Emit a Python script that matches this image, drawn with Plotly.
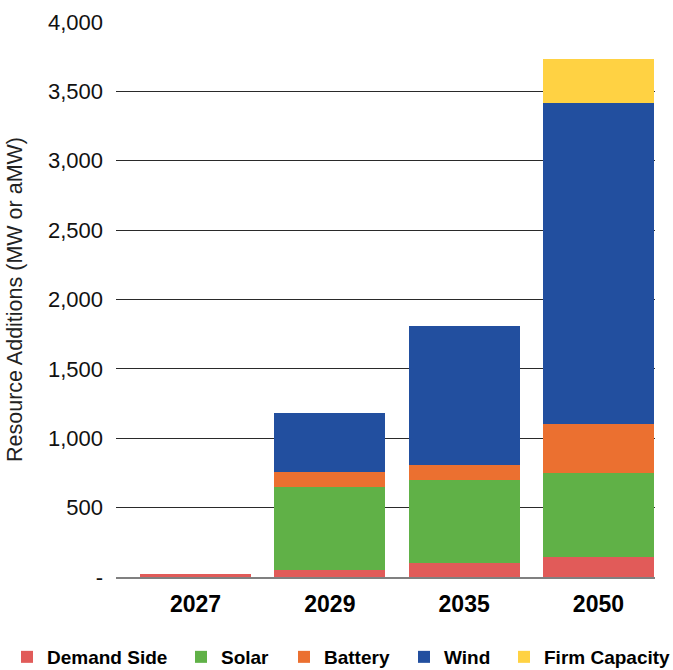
import plotly.graph_objects as go

years = ["2027", "2029", "2035", "2050"]
demand_side = [20, 53, 100, 145]
solar = [0, 595, 600, 605]
battery = [0, 109, 107, 353]
wind = [0, 425, 1002, 2313]
firm_capacity = [0, 0, 0, 317]

y_tickvals = [0, 500, 1000, 1500, 2000, 2500, 3000, 3500, 4000]
y_ticktext = ["-", "500", "1,000", "1,500", "2,000", "2,500", "3,000", "3,500", "4,000"]

series = [
    ("Demand Side", demand_side, "#E15B59"),
    ("Solar", solar, "#60B147"),
    ("Battery", battery, "#EB7030"),
    ("Wind", wind, "#224F9F"),
    ("Firm Capacity", firm_capacity, "#FFD243"),
]
# left pixel of each legend entry (container coords)
legend_left_px = [7, 181, 284, 404, 504]

W, H = 673, 670
fig = go.Figure()
legend_layouts = {}
for i, (name, vals, col) in enumerate(series):
    lname = "legend" if i == 0 else f"legend{i+1}"
    fig.add_trace(go.Bar(name=name, x=years, y=vals, marker_color=col,
                         marker_line_width=0, width=0.826, legend=lname))
    legend_layouts[lname] = dict(
        orientation="h", xref="container", yref="container",
        x=legend_left_px[i] / W, xanchor="left",
        y=1 - 657 / H, yanchor="middle",
        bgcolor="rgba(0,0,0,0)", borderwidth=0,
        font=dict(family="Liberation Sans, Arial", size=19, color="#000", weight="bold"),
        itemwidth=30)

fig.update_layout(
    barmode="stack",
    width=W, height=H,
    margin=dict(l=116, r=18, t=22, b=93, autoexpand=False),
    plot_bgcolor="white", paper_bgcolor="white",
    font=dict(family="Liberation Sans, Arial", color="#111"),
    showlegend=True,
    **legend_layouts,
)
fig.update_xaxes(type="category", range=[-0.592, 3.421], showgrid=False,
                 showline=True, linecolor="#808080", linewidth=2,
                 tickfont=dict(family="Liberation Sans, Arial", size=23, color="#000", weight="bold"),
                 ticks="", ticklabelstandoff=5)
fig.update_yaxes(range=[0, 4000], tickvals=y_tickvals, ticktext=y_ticktext,
                 showgrid=True, gridcolor="#2a2a2a", gridwidth=1, zeroline=False,
                 tickfont=dict(family="Liberation Sans, Arial", size=22, color="#111"),
                 ticklabelstandoff=12,
                 title=dict(text="Resource Additions (MW or aMW)", standoff=19,
                            font=dict(family="Liberation Sans, Arial", size=21.5, color="#222")))

fig.write_html("out.html")
